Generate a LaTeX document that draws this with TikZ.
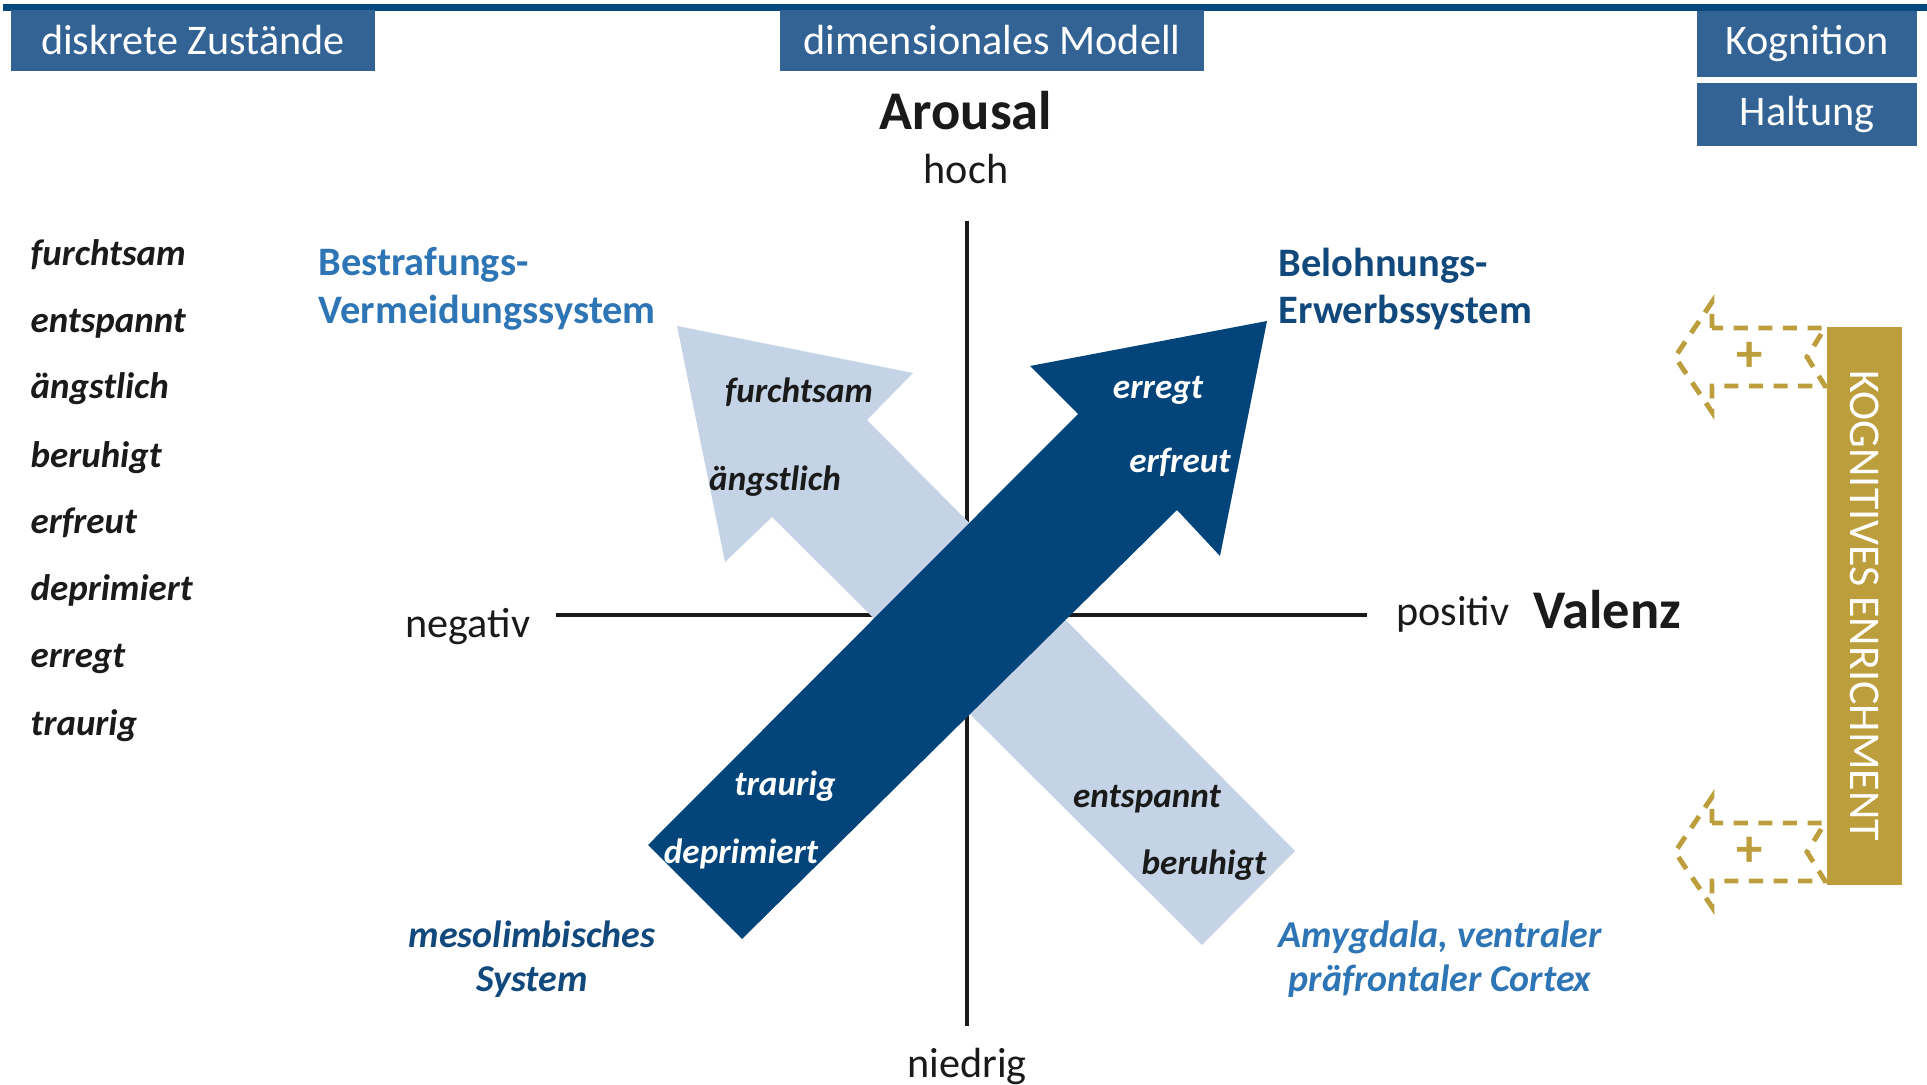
\documentclass[tikz,border=0pt]{standalone}
\usepackage{fontspec}
\setmainfont{Carlito}
\usepackage{tikz}
\usetikzlibrary{positioning}
\definecolor{topblue}{RGB}{4,72,125}
\definecolor{hdrblue}{RGB}{50,99,148}
\definecolor{darkarrow}{RGB}{3,69,122}
\definecolor{lightarrow}{RGB}{196,211,229}
\definecolor{midblue}{RGB}{46,117,182}
\definecolor{navy}{RGB}{18,73,125}
\definecolor{gold}{RGB}{188,158,60}
\definecolor{ink}{RGB}{26,26,26}
\tikzset{
    hdr/.style={fill=hdrblue, text=white, inner sep=0pt, font=\fontsize{12}{14}\selectfont},
    axisline/.style={draw=ink, line width=1pt},
    axislbl/.style={text=ink, inner sep=0pt, anchor=base, font=\fontsize{12}{14}\selectfont},
    axisname/.style={text=ink, inner sep=0pt, anchor=base, font=\fontsize{15.5}{18}\selectfont\bfseries},
    word/.style={text=ink, inner sep=0pt, anchor=base west, font=\fontsize{10.5}{12}\selectfont\bfseries\itshape},
    inword/.style={inner sep=0pt, anchor=base, font=\fontsize{10}{12}\selectfont\bfseries\itshape},
    sysname/.style={inner sep=0pt, anchor=north west, align=left, font=\fontsize{11.5}{13.6}\selectfont\bfseries},
    areaname/.style={inner sep=0pt, anchor=north, align=center, font=\fontsize{10.8}{12.5}\selectfont\bfseries\itshape},
    goldbar/.style={fill=gold, text=white, rotate=-90, inner sep=0pt, minimum width=5.58cm, minimum height=0.75cm, font=\fontsize{12.5}{14}\selectfont},
    enrichtip/.style={draw=gold, line width=1.4pt, dash pattern=on 4pt off 3pt},
    plus/.style={text=gold, inner sep=0pt, font=\fontsize{15}{15}\selectfont\bfseries}
}
\begin{document}
\begin{tikzpicture}[x=0.01cm, y=-0.01cm]
                        \useasboundingbox (0, 0) rectangle (1927, 1085);
                        \fill[topblue] (3, 4) rectangle (1927, 11);
                        \node[hdr, minimum width=3.64cm, minimum height=0.61cm] (diskret) at (193, 40.5) {diskrete Zustände};
                        \node[hdr, minimum width=4.24cm, minimum height=0.61cm] (dimmod) at (992, 40.5) {dimensionales Modell};
                        \node[hdr, minimum width=2.2cm, minimum height=0.66cm] (kogn) at (1807, 44) {Kognition};
                        \node[hdr, minimum width=2.2cm, minimum height=0.63cm, below=0.05cm of kogn] (halt) {Haltung};
                        \coordinate (ytop) at (967, 221);
                        \coordinate (ybot) at (967, 1026);
                        \coordinate (xleft) at (556, 615);
                        \coordinate (xright) at (1367, 615);
                        \draw[axisline] (ytop) -- (ybot) (xleft) -- (xright);
                        \node[axisname] (arousal) at (966, 130) {Arousal};
                        \node[axislbl] (hoch) at (966, 183) {hoch};
                        \node[axislbl] (niedrig) at (967, 1077) {niedrig};
                        \node[axislbl] (negativ) at (468, 637) {negativ};
                        \node[axislbl] (positiv) at (1453, 625) {positiv};
                        \node[axisname] (valenz) at (1607, 628) {Valenz};
                        \node[word] () at (30, 265) {furchtsam};
                        \node[word] () at (30, 332) {entspannt};
                        \node[word] () at (30, 398) {ängstlich};
                        \node[word] () at (30, 467) {beruhigt};
                        \node[word] () at (30, 533) {erfreut};
                        \node[word] () at (30, 600) {deprimiert};
                        \node[word] () at (30, 667) {erregt};
                        \node[word] () at (30, 735) {traurig};
                        \node[sysname, text=midblue] (strafe) at (318, 247) {Bestrafungs-\\Vermeidungssystem};
                        \node[sysname, text=navy] (lohn) at (1278, 247) {Belohnungs-\\Erwerbssystem};
                        \node[areaname, text=navy] (meso) at (532, 920) {mesolimbisches\\System};
                        \node[areaname, text=midblue] (amyg) at (1440, 920) {Amygdala, ventraler\\präfrontaler Cortex};
                        \fill[lightarrow] (677, 326) -- (913, 373) -- (867, 420) -- (1295, 851) -- (1202, 945) -- (772, 517) -- (725, 562) -- cycle;
                        \fill[darkarrow] (1267, 321) -- (1220, 556) -- (1177, 510) -- (742, 939) -- (648, 845) -- (1078, 414) -- (1030, 366) -- cycle;
                        \node[inword, text=ink] (afurcht) at (799, 402) {furchtsam};
                        \node[inword, text=ink] (aangst) at (775, 490) {ängstlich};
                        \node[inword, text=ink] (aentsp) at (1147, 807) {entspannt};
                        \node[inword, text=ink] (aberuh) at (1204, 874) {beruhigt};
                        \node[inword, text=white] (aerregt) at (1158, 398) {erregt};
                        \node[inword, text=white] (aerfreut) at (1180, 472) {erfreut};
                        \node[inword, text=white] (atraurig) at (785, 795) {traurig};
                        \node[inword, text=white] (adeprim) at (741, 863) {deprimiert};
                        \node[goldbar] (enrich) at (1864.5, 606) {KOGNITIVES ENRICHMENT};
                        \draw[enrichtip]
                        (1712, 328) -- (1712, 302) -- (1675, 357) -- (1712, 412) -- (1712, 386) -- (1825, 386) -- (1807, 357) -- (1825, 328) -- cycle
                        (1712, 823) -- (1712, 797) -- (1675, 852) -- (1712, 907) -- (1712, 881) -- (1825, 881) -- (1807, 852) -- (1825, 823) -- cycle;
                        \node[plus] (plusa) at (1750, 357) {+};
                        \node[plus] (plusb) at (1750, 852) {+};
                    \end{tikzpicture}
\end{document}
